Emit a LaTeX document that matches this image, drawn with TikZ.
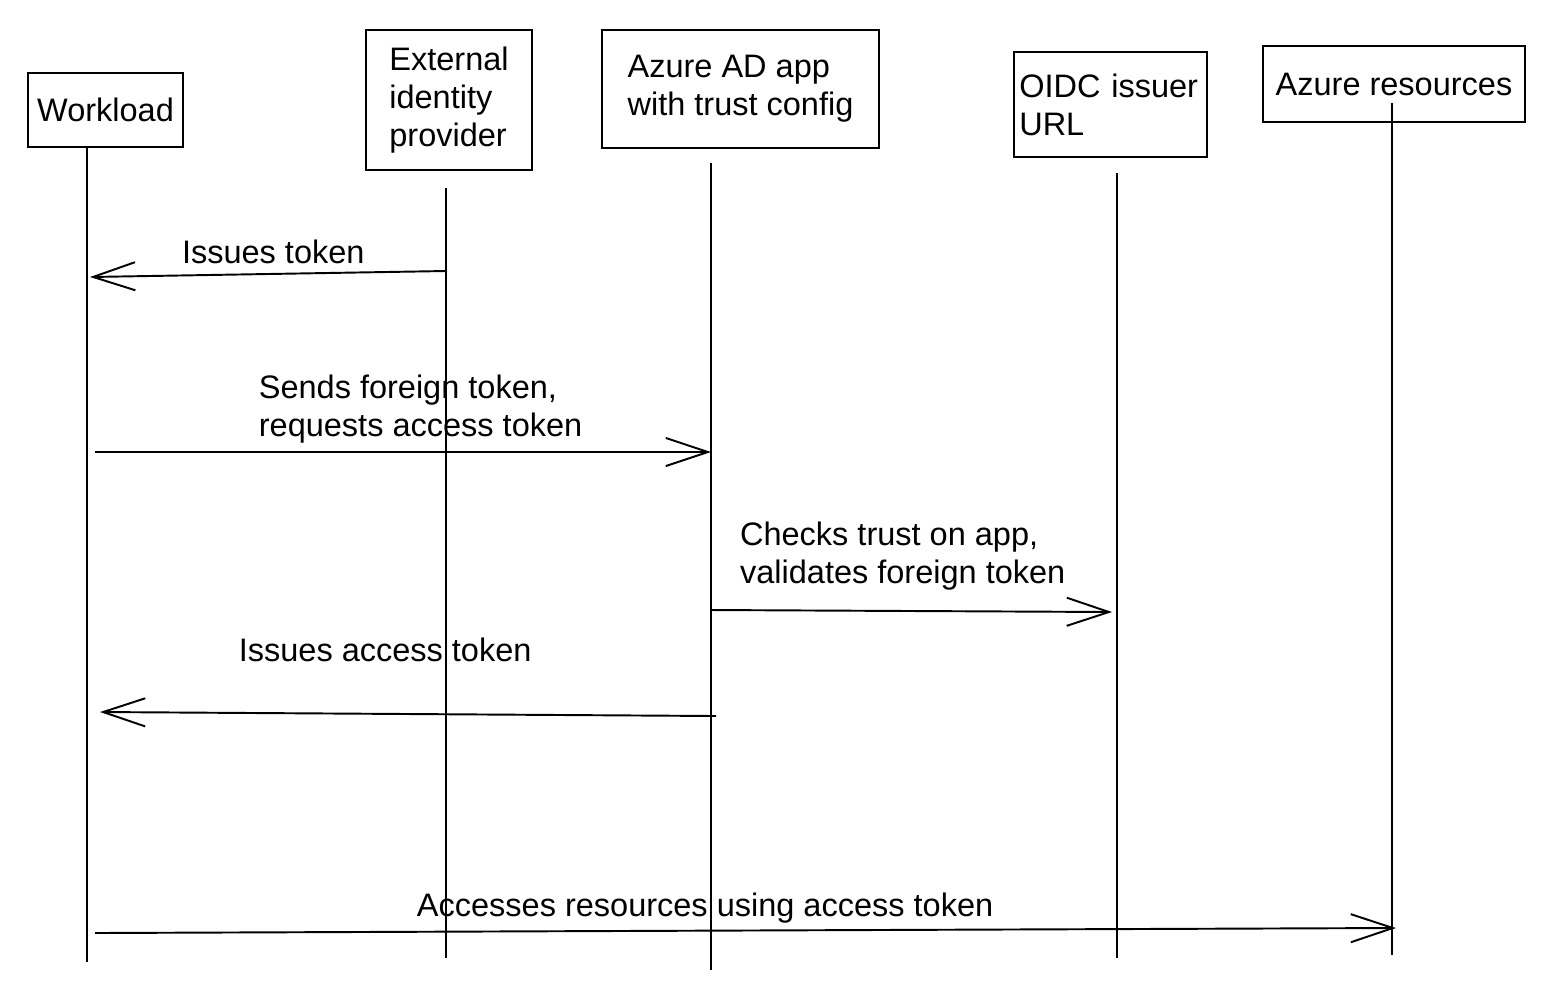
\documentclass[tikz,border=0pt]{standalone}
\usepackage{fontspec}
\setmainfont{Liberation Sans}
\usetikzlibrary{arrows.meta,positioning}

\begin{document}
\begin{tikzpicture}
        [
            x=0.02cm, y=-0.02cm,
            every node/.style = {
                font=\fontsize{18.5}{21.5}\selectfont
            },
            actor/.style = {
                rectangle,
                draw,
                line width=1.1pt,
                align=left,
                inner sep=3pt
            },
            life/.style = {
                draw,
                line width=1.1pt
            },
            msg/.style = {
                draw,
                line width=1.1pt,
                -{Straight Barb[length=24pt,width=16pt,line width=1.1pt]}
            },
            lbl/.style = {
                align=left
            }
        ]

        \useasboundingbox (0,0) rectangle (1554,985);

        % participants
        \node[actor,minimum width=3.1cm,minimum height=1.48cm] (work) at (105.5,110) {Workload};
        \node[actor,minimum width=3.32cm,minimum height=2.8cm] (extidp) at (449,100) {External\\identity\\provider};
        \node[actor,minimum width=5.54cm,minimum height=2.36cm] (aadapp) at (740.5,89) {Azure AD app\\with trust config};
        \node[actor,text width=3.65cm,minimum height=2.1cm] (oidc) at (1110.5,104.5) {OIDC issuer\\URL};
        \node[actor,minimum width=5.24cm,minimum height=1.52cm] (azres) at (1394,84) {Azure resources};

        % lifelines
        \coordinate (worktop) at (87,148);
        \coordinate (workbot) at (87,962);
        \coordinate (extidptop) at (446,188);
        \coordinate (extidpbot) at (446,958);
        \coordinate (aadapptop) at (711,163);
        \coordinate (aadappbot) at (711,970);
        \coordinate (oidctop) at (1117,173);
        \coordinate (oidcbot) at (1117,958);
        \coordinate (azrestop) at (1392,103);
        \coordinate (azresbot) at (1392,955);

        \path[life] (worktop) -- (workbot);
        \path[life] (extidptop) -- (extidpbot);
        \path[life] (aadapptop) -- (aadappbot);
        \path[life] (oidctop) -- (oidcbot);
        \path[life] (azrestop) -- (azresbot);

        % messages
        \coordinate (m1s) at (446,271);
        \coordinate (m1e) at (90,277);
        \coordinate (m2s) at (95,452);
        \coordinate (m2e) at (711,452);
        \coordinate (m3s) at (711,610);
        \coordinate (m3e) at (1112,612);
        \coordinate (m4s) at (716,716);
        \coordinate (m4e) at (100,712);
        \coordinate (m5s) at (95,933);
        \coordinate (m5e) at (1396,928);

        \path[msg] (m1s) -- node[lbl,above=2pt,xshift=3pt] (lbl1) {Issues token} (m1e);
        \path[msg] (m2s) -- node[lbl,above=1pt,xshift=10pt] (lbl2) {Sends foreign token,\\requests access token} (m2e);
        \path[msg] (m3s) -- node[lbl,above=8pt,xshift=-5pt] (lbl3) {Checks trust on app,\\validates foreign token} (m3e);
        \path[msg] (m4s) -- node[lbl,above=26pt,xshift=-13pt] (lbl4) {Issues access token} (m4e);
        \path[msg] (m5s) -- node[lbl,above=0pt,xshift=-23pt] (lbl5) {Accesses resources using access token} (m5e);
    \end{tikzpicture}
\end{document}
